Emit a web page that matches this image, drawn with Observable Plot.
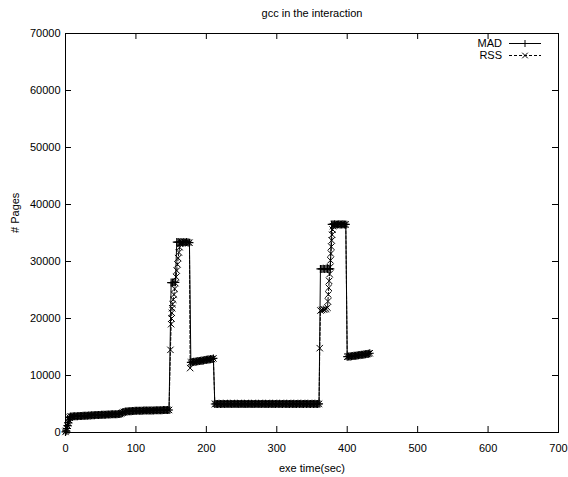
<!DOCTYPE html>
<html>
<head>
<meta charset="utf-8">
<script src="https://cdn.jsdelivr.net/npm/d3@7"></script>
<script src="https://cdn.jsdelivr.net/npm/@observablehq/plot@0.6"></script>
<style>
  html, body { margin: 0; padding: 0; background: #fff; }
  #chart { width: 568px; height: 477px; }
</style>
</head>
<body>
<div id="chart"></div>
<script>
// ---- chart text ----
const title = "gcc in the interaction";
const xLabel = "exe time(sec)";
const yLabel = "# Pages";
const seriesNames = ["MAD", "RSS"];

// ---- tick values ----
const xTicks = [0, 100, 200, 300, 400, 500, 600, 700];
const yTicks = [0, 10000, 20000, 30000, 40000, 50000, 60000, 70000];

// ---- data: [time (sec), pages] ----
// shared start (both series)
const startSeg = [
  [0,100],[1,300],[2,700],[3,1200],[4,1700],[5,2200],[6,2600],[7,2800],
  [9,2820],[11,2830],[13,2850],[15,2860],[17,2870],[19,2880],[21,2900],[23,2910],
  [25,2920],[27,2930],[29,2950],[31,2960],[33,2980],[35,3000],[37,3010],[39,3030],
  [41,3040],[43,3050],[45,3060],[47,3080],[49,3090],[51,3100],[53,3110],[55,3120],
  [57,3130],[59,3150],[61,3160],[63,3170],[65,3180],[67,3190],[69,3200],[71,3210],
  [73,3220],[75,3230],[77,3250],[79,3350],[81,3480],[83,3600],[85,3680],[87,3700],
  [89,3720],[91,3740],[93,3750],[95,3760],[97,3780],[99,3800],[101,3800],[103,3810],
  [105,3820],[107,3820],[109,3830],[111,3840],[113,3840],[115,3850],[117,3860],[119,3860],
  [121,3870],[123,3880],[125,3880],[127,3890],[129,3900],[131,3900],[133,3910],[135,3920],
  [137,3920],[139,3930],[141,3940],[143,3940],[145,3950],[147,3950]
];
// first burst
const madBurst1 = [
  [150,26300],[152,26300],[154,26350],[156,26350],[158,33400],[160,33400],[162,33350],
  [164,33400],[166,33350],[168,33400],[170,33350],[172,33400],[174,33350],[176,33300]
];
const rssBurst1 = [
  [149,14500],[150,19000],[150.5,20000],[151,21000],[151.5,21800],[152,22500],[153,23300],
  [154,24200],[155,25200],[156,26200],[157,27300],[158,28400],[159,29500],[160,30600],
  [161,31600],[162,32500],[163,33100],[164,33300],[166,33350],[168,33400],[170,33350],
  [172,33400],[174,33350],[176,33300],[177,11300]
];
// plateau after first burst (both series)
const plateauA = [
  [178,12300],[180,12350],[182,12400],[184,12400],[186,12450],[188,12500],[190,12550],
  [192,12600],[194,12600],[196,12650],[198,12700],[200,12750],[202,12800],[204,12800],
  [206,12850],[208,12900],[210,13000]
];
// long low plateau (both series)
const plateauB = [
  [212,5000],[214,5020],[216,5000],[218,5030],[220,5010],[222,5000],[224,5040],[226,5020],
  [228,5000],[230,5030],[232,5010],[234,5040],[236,5020],[238,5000],[240,5030],[242,5010],
  [244,5040],[246,5020],[248,5000],[250,5030],[252,5010],[254,5040],[256,5020],[258,5000],
  [260,5030],[262,5010],[264,5040],[266,5020],[268,5000],[270,5030],[272,5010],[274,5040],
  [276,5020],[278,5000],[280,5030],[282,5010],[284,5040],[286,5020],[288,5000],[290,5030],
  [292,5010],[294,5040],[296,5020],[298,5000],[300,5030],[302,5010],[304,5040],[306,5020],
  [308,5000],[310,5030],[312,5010],[314,5040],[316,5020],[318,5000],[320,5030],[322,5010],
  [324,5040],[326,5020],[328,5000],[330,5030],[332,5010],[334,5040],[336,5020],[338,5000],
  [340,5030],[342,5010],[344,5040],[346,5020],[348,5000],[350,5030],[352,5010],[354,5040],
  [356,5020],[358,5000],[360,5030]
];
// second burst
const madBurst2 = [
  [362,28700],[364,28700],[366,28750],[368,28700],[370,28750],[372,28700],[374,28750],
  [376,28700],[378,36500],[380,36500],[382,36550],[384,36500],[386,36500],[388,36550],
  [390,36500],[392,36500],[394,36550],[396,36500],[398,36500]
];
const rssBurst2 = [
  [361,14800],[362,21400],[364,21500],[366,21600],[368,21600],[370,21700],[372,21900],
  [372.6,23000],[373.2,24200],[373.8,25400],[374.4,26600],[375,27800],[375.6,29000],
  [376.2,30200],[376.8,31400],[377.4,32600],[378,33700],[378.6,34700],[379.2,35600],
  [379.8,36200],[381,36500],[382,36550],[384,36500],[386,36500],[388,36550],[390,36500],
  [392,36500],[394,36550],[396,36500],[398,36500]
];
// tail (both series)
const tailSeg = [
  [400,13300],[402,13330],[404,13350],[406,13380],[408,13420],[410,13450],[412,13480],
  [414,13520],[416,13550],[418,13580],[420,13620],[422,13650],[424,13700],[426,13740],
  [428,13780],[430,13830],[432,13900]
];

const toRows = arr => arr.map(([t, v]) => ({t, v}));
const mad = toRows([...startSeg, ...madBurst1, ...plateauA, ...plateauB, ...madBurst2, ...tailSeg]);
const rss = toRows([...startSeg, ...rssBurst1, ...plateauA, ...plateauB, ...rssBurst2, ...tailSeg]);

// stroke-only marker symbols
const plusSym = {draw(ctx, size) { const r = Math.sqrt(size / Math.PI); ctx.moveTo(-r, 0); ctx.lineTo(r, 0); ctx.moveTo(0, -r); ctx.lineTo(0, r); }};
const timesSym = {draw(ctx, size) { const r = Math.sqrt(size / Math.PI); ctx.moveTo(-r, -r); ctx.lineTo(r, r); ctx.moveTo(-r, r); ctx.lineTo(r, -r); }};

const W = 568, H = 477, ML = 65, MR = 10, MT = 33, MB = 45;
const FW = W - ML - MR, FH = H - MT - MB, TICK = 6;
const font = "'Liberation Sans', Arial, Helvetica, sans-serif";
const madR = 4, rssR = 3.2;

const chart = Plot.plot({
  width: W, height: H,
  marginLeft: ML, marginRight: MR, marginTop: MT, marginBottom: MB,
  style: {fontFamily: font, fontSize: "11px", background: "white", color: "black", overflow: "visible"},
  x: {domain: [0, 700], label: null},
  y: {domain: [0, 70000], label: null},
  marks: [
    // inward ticks on all four sides
    Plot.tickX(xTicks, {x: d => d, stroke: "black", insetTop: FH - TICK}),
    Plot.tickX(xTicks, {x: d => d, stroke: "black", insetBottom: FH - TICK}),
    Plot.tickY(yTicks, {y: d => d, stroke: "black", insetRight: FW - TICK}),
    Plot.tickY(yTicks, {y: d => d, stroke: "black", insetLeft: FW - TICK}),
    Plot.axisX(xTicks, {tickSize: 0, tickPadding: 12, tickFormat: d => `${d}`, label: null, fontSize: 11}),
    Plot.axisY(yTicks, {tickSize: 0, tickPadding: 5, tickFormat: d => `${d}`, label: null, fontSize: 11}),
    // series
    Plot.line(mad, {x: "t", y: "v", stroke: "black", strokeWidth: 1}),
    Plot.dot(mad, {x: "t", y: "v", symbol: plusSym, r: madR, fill: "none", stroke: "black", strokeWidth: 1.2}),
    Plot.line(rss, {x: "t", y: "v", stroke: "black", strokeWidth: 1, strokeDasharray: "3,2"}),
    Plot.dot(rss, {x: "t", y: "v", symbol: timesSym, r: rssR, fill: "none", stroke: "black", strokeWidth: 1}),
    Plot.frame({stroke: "black", strokeWidth: 1}),
    // titles
    Plot.text([title], {frameAnchor: "top", dy: -24, fontSize: 11}),
    Plot.text([xLabel], {frameAnchor: "bottom", dy: 39, fontSize: 11}),
    Plot.text([yLabel], {frameAnchor: "left", dx: -50, rotate: -90, fontSize: 11})
  ]
});
document.getElementById("chart").appendChild(chart);

// legend (top-right, inside the frame)
const svg = d3.select(chart.tagName.toLowerCase() === "svg" ? chart : chart.querySelector("svg"));
const lg = svg.append("g").attr("font-family", font).attr("font-size", 11).attr("fill", "black");
const legendRows = [
  {name: seriesNames[0], dash: null, sym: plusSym, r: 3.5, cy: 43},
  {name: seriesNames[1], dash: "3,2", sym: timesSym, r: 2.8, cy: 55}
];
const textRight = W - MR - 56, lineX1 = W - MR - 49, lineX2 = W - MR - 17;
for (const row of legendRows) {
  lg.append("text").attr("x", textRight).attr("y", row.cy).attr("dy", "0.35em")
    .attr("text-anchor", "end").text(row.name);
  lg.append("line").attr("x1", lineX1).attr("x2", lineX2).attr("y1", row.cy + 0.5).attr("y2", row.cy + 0.5)
    .attr("stroke", "black").attr("stroke-width", 1).attr("stroke-dasharray", row.dash);
  lg.append("path").attr("transform", `translate(${(lineX1 + lineX2) / 2},${row.cy + 0.5})`)
    .attr("d", d3.symbol(row.sym, row.r * row.r * Math.PI)())
    .attr("fill", "none").attr("stroke", "black");
}
</script>
</body>
</html>
